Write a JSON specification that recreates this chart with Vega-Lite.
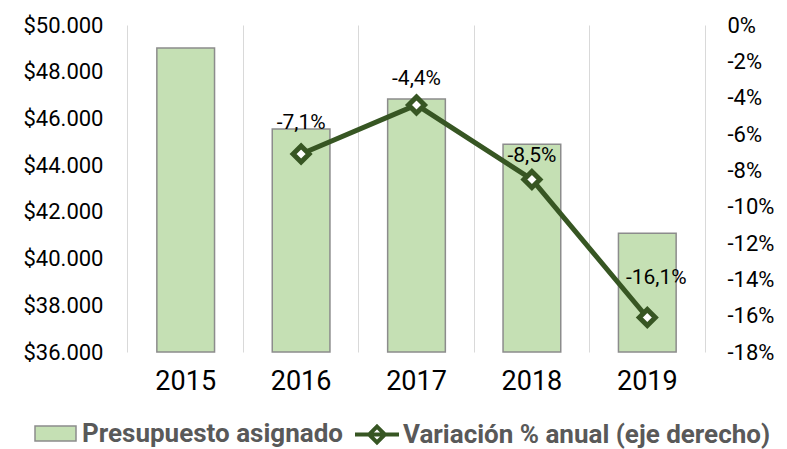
{
  "$schema": "https://vega.github.io/schema/vega-lite/v6.json",
  "width": 577,
  "height": 327,
  "autosize": {"type": "none"},
  "padding": {"left": 128, "top": 25, "right": 82, "bottom": 97},
  "config": {
    "locale": {"number": {"decimal": ",", "thousands": ".", "grouping": [3], "currency": ["$", ""], "minus": "-"}},
    "view": {"stroke": null},
    "font": "Roboto",
    "axis": {"labelFont": "Roboto", "labelColor": "#000000", "labelFontSize": 22, "ticks": false, "domain": false, "grid": false, "title": null},
    "legend": {"labelFont": "Roboto", "labelFontWeight": "bold", "labelFontSize": 26, "labelColor": "#595959", "labelLimit": 600, "padding": 0, "title": null}
  },
  "data": {
    "values": [
      {"year": "2015", "presupuesto": 49010},
      {"year": "2016", "presupuesto": 45550, "variacion": -0.071},
      {"year": "2017", "presupuesto": 46830, "variacion": -0.044},
      {"year": "2018", "presupuesto": 44890, "variacion": -0.085},
      {"year": "2019", "presupuesto": 41080, "variacion": -0.161}
    ]
  },
  "layer": [
    {
      "mark": {"type": "bar", "stroke": "#8c8c8c", "strokeWidth": 1.5},
      "encoding": {
        "x": {
          "field": "year", "type": "nominal",
          "scale": {"paddingInner": 0.5, "paddingOuter": 0.25},
          "axis": {"bandPosition": -0.5, "grid": true, "gridColor": "#d9d9d9", "gridWidth": 1, "labelFont": "Roboto", "labelFontSize": 27, "labelAngle": 0, "labelPadding": 16}
        },
        "y": {
          "field": "presupuesto", "type": "quantitative",
          "scale": {"domain": [36000, 50000], "zero": false, "nice": false},
          "axis": {"orient": "left", "values": [36000, 38000, 40000, 42000, 44000, 46000, 48000, 50000], "format": "$,.0f", "labelPadding": 25}
        },
        "y2": {"datum": 36000},
        "fill": {
          "datum": "Presupuesto asignado", "type": "nominal",
          "scale": {"domain": ["Presupuesto asignado"], "range": ["#c5e0b4"]},
          "legend": {
            "orient": "none", "legendX": -94, "legendY": 387, "direction": "horizontal",
            "symbolType": "M-1,-0.366H1V0.366H-1Z", "symbolSize": 1681,
            "symbolStrokeColor": "#8c8c8c", "symbolStrokeWidth": 1.5, "symbolOpacity": 1, "labelOffset": 5
          }
        }
      }
    },
    {
      "transform": [{"filter": "isValid(datum.variacion)"}],
      "encoding": {
        "x": {"field": "year", "type": "nominal"},
        "y": {
          "field": "variacion", "type": "quantitative",
          "scale": {"domain": [-0.18, 0], "nice": false, "zero": false},
          "axis": {"orient": "right", "values": [-0.18, -0.16, -0.14, -0.12, -0.1, -0.08, -0.06, -0.04, -0.02, 0], "format": ".0%", "domain": true, "domainColor": "#d9d9d9", "domainWidth": 1, "labelPadding": 22}
        }
      },
      "layer": [
        {
          "mark": {"type": "line", "strokeWidth": 5, "point": {"shape": "diamond", "filled": false, "fill": "#ffffff", "size": 256, "strokeWidth": 5}},
          "encoding": {
            "stroke": {
              "datum": "Variación % anual (eje derecho)", "type": "nominal",
              "scale": {"domain": ["Variación % anual (eje derecho)"], "range": ["#375623"]},
              "legend": {
                "orient": "none", "legendX": 225, "legendY": 385.5, "direction": "horizontal",
                "symbolType": "M-1,0H1M0,-0.36L0.36,0L0,0.36L-0.36,0Z", "symbolSize": 1936,
                "symbolFillColor": "#ffffff", "symbolStrokeWidth": 4, "symbolOpacity": 1, "labelOffset": 2
              }
            }
          }
        },
        {
          "mark": {
            "type": "text", "font": "Roboto", "fontSize": 21, "color": "#000000", "baseline": "alphabetic",
            "dy": {"expr": "datum.year === '2016' ? -25 : datum.year === '2017' ? -20 : datum.year === '2018' ? -17 : -33"},
            "dx": {"expr": "datum.year === '2019' ? 9 : 0"}
          },
          "encoding": {"text": {"field": "variacion", "type": "quantitative", "format": ".1%"}}
        }
      ]
    }
  ],
  "resolve": {"scale": {"y": "independent"}}
}
